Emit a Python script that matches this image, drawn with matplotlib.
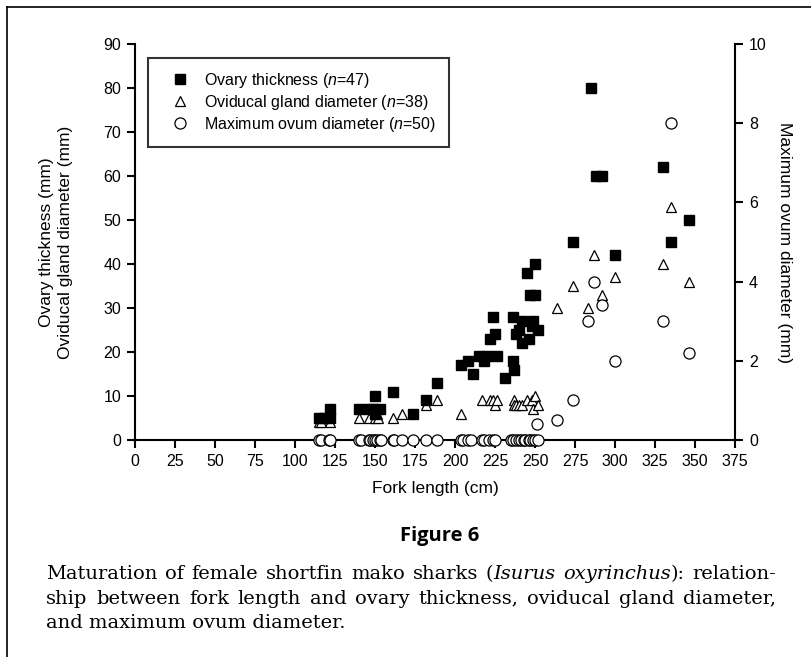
import numpy as np
import matplotlib.pyplot as plt
from matplotlib.lines import Line2D

plt.rcParams['font.family'] = ['Liberation Sans', 'DejaVu Sans']
plt.rcParams['mathtext.fontset'] = 'custom'
plt.rcParams['mathtext.it'] = 'Liberation Sans:italic'
plt.rcParams['mathtext.rm'] = 'Liberation Sans'

# ovary thickness (mm) vs fork length (cm)
ovary_fl = [115, 118, 122, 122, 140, 146, 149, 150, 150, 153, 161, 174, 182, 189,
            204, 208, 211, 215, 218, 220, 222, 224, 225, 226, 231, 236, 236, 237,
            238, 240, 242, 242, 245, 246, 247, 248, 249, 250, 250, 252,
            274, 285, 288, 292, 300, 330, 335, 346]
ovary_mm = [5, 5, 7, 5, 7, 7, 7, 10, 6, 7, 11, 6, 9, 13,
            17, 18, 15, 19, 18, 19, 23, 28, 24, 19, 14, 28, 18, 16,
            24, 25, 27, 22, 38, 23, 33, 26, 27, 40, 33, 25,
            45, 80, 60, 60, 42, 62, 45, 50]

# oviducal gland diameter (mm)
gland_fl = [115, 116, 120, 122, 140, 146, 150, 151, 152, 161, 167, 182, 189,
            204, 217, 222, 224, 225, 226, 237, 237, 238, 240, 242, 245, 248, 249,
            250, 252, 264, 274, 283, 287, 292, 300, 330, 335, 346]
gland_mm = [4, 4, 6, 4, 5, 5, 5, 6, 5, 5, 6, 8, 9,
            6, 9, 9, 9, 8, 9, 9, 8, 8, 8, 8, 9, 9, 7,
            10, 8, 30, 35, 30, 42, 33, 37, 40, 53, 36]

# maximum ovum diameter (mm), right axis
ovum_fl = [115, 116, 121, 122, 140, 141, 146, 147, 149, 150, 151, 153, 154, 161,
           162, 167, 174, 182, 189, 204, 205, 208, 210, 217, 218, 221, 224, 225,
           235, 236, 238, 240, 241, 243, 244, 246, 247, 249, 250, 252,
           251, 264, 274, 283, 287, 292, 300, 330, 335, 346]
ovum_mm = [0] * 40 + [0.4, 0.5, 1.0, 3.0, 4.0, 3.4, 2.0, 3.0, 8.0, 2.2]

xticks = np.arange(0, 376, 25)
yticks_left = np.arange(0, 91, 10)
yticks_right = np.arange(0, 11, 2)

fig = plt.figure(figsize=(8.12, 6.57), dpi=100)
ax = fig.add_axes([0.1663, 0.3303, 0.7389, 0.6027])
ax2 = ax.twinx()

ax.plot(ovary_fl, ovary_mm, 's', color='black', ms=6.5, ls='none', clip_on=False, zorder=4)
ax.plot(gland_fl, gland_mm, '^', mfc='white', mec='black', mew=0.9, ms=6.5, ls='none',
        clip_on=False, zorder=3)
ax2.plot(ovum_fl, ovum_mm, 'o', mfc='white', mec='black', mew=0.9, ms=8, ls='none',
         clip_on=False, zorder=5)

ax.set_xlim(0, 375)
ax.set_ylim(0, 90)
ax2.set_ylim(0, 10)
ax.set_xticks(xticks)
ax.set_yticks(yticks_left)
ax2.set_yticks(yticks_right)

for a in (ax, ax2):
    a.spines['top'].set_visible(False)
    for s in a.spines.values():
        s.set_linewidth(1.5)
    a.tick_params(direction='out', length=6, width=1.5, labelsize=11.5, pad=4)
ax.spines['right'].set_visible(False)
ax2.spines['left'].set_visible(False)
ax2.spines['bottom'].set_visible(False)

ax.set_xlabel('Fork length (cm)', fontsize=12.5, labelpad=9)
ax.set_ylabel('Ovary thickness (mm)\nOviducal gland diameter (mm)', fontsize=12.5,
              labelpad=22, linespacing=1.35)
ax2.set_ylabel('Maximum ovum diameter (mm)', fontsize=12.5, rotation=270, labelpad=18)

handles = [
    Line2D([], [], marker='s', color='black', ls='none', ms=6.5),
    Line2D([], [], marker='^', mfc='white', mec='black', mew=0.9, ls='none', ms=6.5),
    Line2D([], [], marker='o', mfc='white', mec='black', mew=0.9, ls='none', ms=8),
]
labels = ['Ovary thickness ($n$=47)', 'Oviducal gland diameter ($n$=38)',
          'Maximum ovum diameter ($n$=50)']
leg = ax.legend(handles, labels, loc='upper left', bbox_to_anchor=(0.022, 0.965),
                fontsize=11.5, frameon=True, fancybox=False, edgecolor='black',
                handletextpad=0.3, borderpad=0.8, labelspacing=0.2, borderaxespad=0,
                handlelength=2.4)
leg.get_frame().set_linewidth(1.5)
leg.set_zorder(10)

# figure title and caption
fig.text(0.542, 0.184, 'Figure 6', ha='center', va='center', fontsize=14.5,
         fontweight='bold', family='Open Sans')

serif = 'DejaVu Serif'
cap_size = 14
W = 812.0
x_left, x_right = 46, 776
y1, y2, y3 = 0.126, 0.089, 0.052
fig.canvas.draw()
r = fig.canvas.get_renderer()


def justify(pieces, y):
    # pieces: (text, style, gap after); spread the gaps over the full line width
    arts = [fig.text(0, y, p, fontsize=cap_size, family=serif, style=s, va='center')
            for p, s, _ in pieces]
    widths = [a.get_window_extent(r).width for a in arts]
    ngaps = sum(1 for p in pieces[:-1] if p[2])
    gap = (x_right - x_left - sum(widths)) / ngaps
    x = x_left
    for a, w, p in zip(arts, widths, pieces):
        a.set_x(x / W)
        x += w + (gap if p[2] else 0)


line1 = [('Maturation', 'normal', True), ('of', 'normal', True), ('female', 'normal', True),
         ('shortfin', 'normal', True), ('mako', 'normal', True), ('sharks', 'normal', True),
         ('(', 'normal', False), ('Isurus', 'italic', True), ('oxyrinchus', 'italic', False),
         ('):', 'normal', True), ('relation-', 'normal', True)]
line2 = [(w, 'normal', True) for w in
         'ship between fork length and ovary thickness, oviducal gland diameter,'.split()]
justify(line1, y1)
justify(line2, y2)
fig.text(x_left / W, y3, 'and maximum ovum diameter.', fontsize=cap_size, family=serif,
         va='center')

# border lines (left and top)
fig.add_artist(Line2D([7 / 812, 7 / 812], [0, 1 - 7 / 657], color='black', lw=1.2))
fig.add_artist(Line2D([7 / 812, 1], [1 - 7 / 657, 1 - 7 / 657], color='black', lw=1.2))

fig.savefig('out.png', dpi=100)
